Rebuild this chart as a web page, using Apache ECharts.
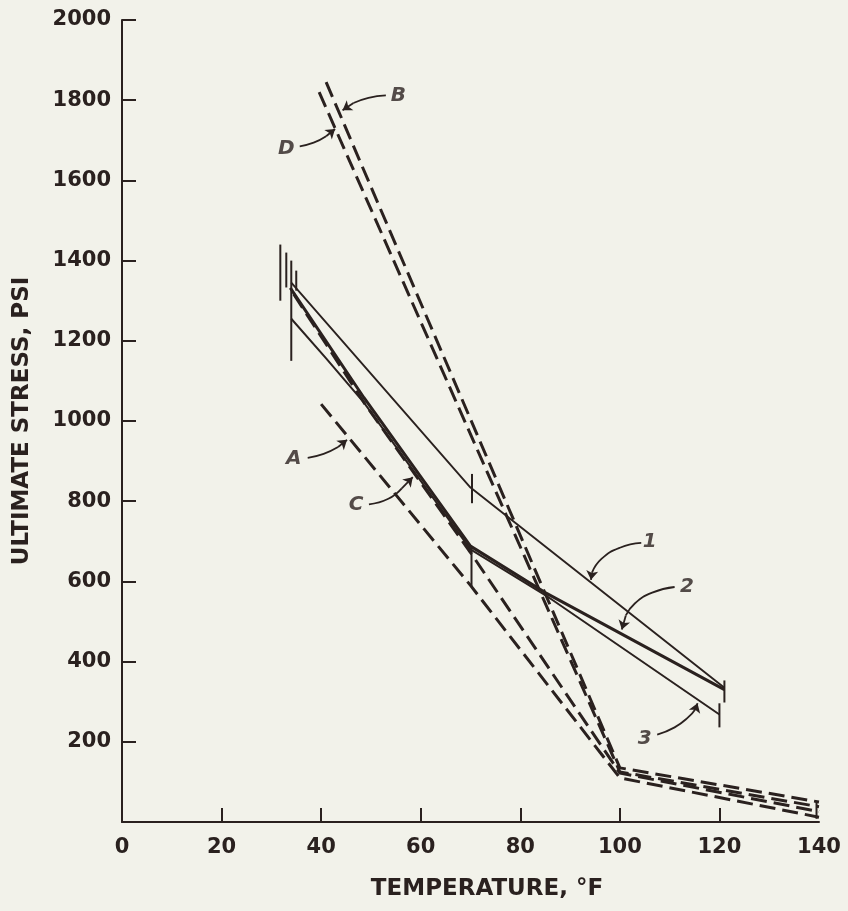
<!DOCTYPE html>
<html>
<head>
<meta charset="utf-8">
<script src="https://cdn.jsdelivr.net/npm/echarts@6/dist/echarts.min.js"></script>
<style>
html,body{margin:0;padding:0;background:#f2f2ea;}
#c{width:848px;height:911px;}
</style>
</head>
<body>
<div id="c"></div>
<script>
// ---- data (temperature °F, ultimate stress psi) ----
const xTicks = [20, 40, 60, 80, 100, 120];
const yTicks = [200, 400, 600, 800, 1000, 1200, 1400, 1600, 1800, 2000];

// solid curves 1, 2, 3
const curve1 = [[34, 1345], [70, 834], [121, 335]];
const curve2 = [[33.8, 1332], [48.6, 1058], [70, 688], [85, 572], [121, 330]];
const curve3 = [[34, 1255], [41, 1156], [48.6, 1046], [70, 680], [85, 566], [120, 268]];

// dashed curves A, B, C, D
const curveA = [[40, 1042], [70, 590], [100, 110], [140, 12]];
const curveB = [[41, 1845], [100, 135], [140, 50]];
const curveC = [[34.5, 1316], [48.6, 1046], [70, 672], [100, 122], [140, 26]];
const curveD = [[39.6, 1820], [100, 125], [140, 38]];

// end / range bars
const bars = [
  [[31.8, 1440], [31.8, 1300]],
  [[33, 1420], [33, 1333]],
  [[34, 1400], [34, 1150]],
  [[35, 1375], [35, 1325]],
  [[70.3, 868], [70.3, 795]],
  [[70.2, 686], [70.2, 588]],
  [[121, 353], [121, 298]],
  [[120, 296], [120, 236]],
  [[139.5, 52], [139.5, 8]]
];

// annotation labels
const labelNames = ['1', '2', '3', 'A', 'B', 'C', 'D'];
const labelPos = [[106, 700], [113.5, 586], [105, 208], [34.5, 906], [55.5, 1811], [47, 790], [33, 1680]];
// pointer curves (label -> curve)
const pointers = [
  [[104.3, 696], [100, 684], [96.3, 656], [94.4, 622]],
  [[111, 586], [106.5, 572], [103, 545], [101.2, 515]],
  [[107.5, 218], [111, 236], [113.8, 262], [115.2, 282]],
  [[37.3, 908], [40.5, 918], [43.4, 935]],
  [[53, 1812], [49.5, 1806], [46.5, 1793]],
  [[49.6, 792], [53.5, 806], [56.2, 832]],
  [[35.7, 1685], [38.5, 1694], [41, 1710]]
];
const pointerTips = [
  [[94.4, 622], [94.2, 604]],
  [[101.2, 515], [100.4, 480]],
  [[115.2, 282], [115.6, 296]],
  [[43.4, 935], [45.2, 953]],
  [[46.5, 1793], [44.3, 1775]],
  [[56.2, 832], [58.4, 860]],
  [[41, 1710], [42.8, 1728]]
];

const INK = '#2a211f';
const FONT = 'DejaVu Sans';
const series = [];
function solid(d, w) {
  series.push({type: 'line', data: d, symbol: 'none', silent: true,
    lineStyle: {color: INK, width: w}, z: 3});
}
function dashed(d) {
  series.push({type: 'line', data: d, symbol: 'none', silent: true,
    lineStyle: {color: INK, width: 3, type: [16, 7]}, z: 2});
}
solid(curve1, 1.9);
solid(curve2, 3);
solid(curve3, 2);
dashed(curveA); dashed(curveB); dashed(curveC); dashed(curveD);
bars.forEach(b => solid(b, 2));
pointers.forEach(p => series.push({type: 'line', data: p, smooth: true, symbol: 'none', silent: true,
  lineStyle: {color: INK, width: 1.8}, z: 4}));
series.push({type: 'lines', coordinateSystem: 'cartesian2d', silent: true, z: 4,
  symbol: ['none', 'arrow'], symbolSize: 9,
  lineStyle: {color: INK, width: 1.8, opacity: 1},
  data: pointerTips.map(c => ({coords: c}))});
series.push({type: 'scatter', symbolSize: 0, silent: true, z: 5,
  data: labelNames.map((n, i) => ({value: labelPos[i], name: n})),
  label: {show: true, position: 'inside', formatter: p => p.name, color: INK,
    fontFamily: FONT, fontStyle: 'italic', fontWeight: 'bold', fontSize: 20}});

const chart = echarts.init(document.getElementById('c'), null, {renderer: 'canvas'});
chart.setOption({
  backgroundColor: '#f2f2ea',
  animation: false,
  grid: {left: 122, right: 29, top: 20, bottom: 89, containLabel: false},
  xAxis: {
    type: 'value', min: 0, max: 140, interval: 20,
    name: 'TEMPERATURE, °F', nameLocation: 'middle', nameGap: 56,
    nameTextStyle: {color: INK, fontFamily: FONT, fontWeight: 'bold', fontSize: 23, padding: [0, 0, 0, 33]},
    axisLine: {lineStyle: {color: INK, width: 2}},
    axisTick: {inside: true, length: 14, lineStyle: {color: INK, width: 2}, customValues: xTicks},
    axisLabel: {color: INK, fontFamily: FONT, fontWeight: 'bold', fontSize: 21, margin: 15},
    splitLine: {show: false}
  },
  yAxis: {
    type: 'value', min: 0, max: 2000, interval: 200,
    name: 'ULTIMATE STRESS, PSI', nameLocation: 'middle', nameGap: 88,
    nameTextStyle: {color: INK, fontFamily: FONT, fontWeight: 'bold', fontSize: 23},
    axisLine: {show: true, lineStyle: {color: INK, width: 2}},
    axisTick: {show: true, inside: true, length: 14, lineStyle: {color: INK, width: 2}, customValues: yTicks},
    axisLabel: {color: INK, fontFamily: FONT, fontWeight: 'bold', fontSize: 21, margin: 11,
      formatter: v => v === 0 ? '' : String(v)},
    splitLine: {show: false}
  },
  series: series
});
</script>
</body>
</html>
